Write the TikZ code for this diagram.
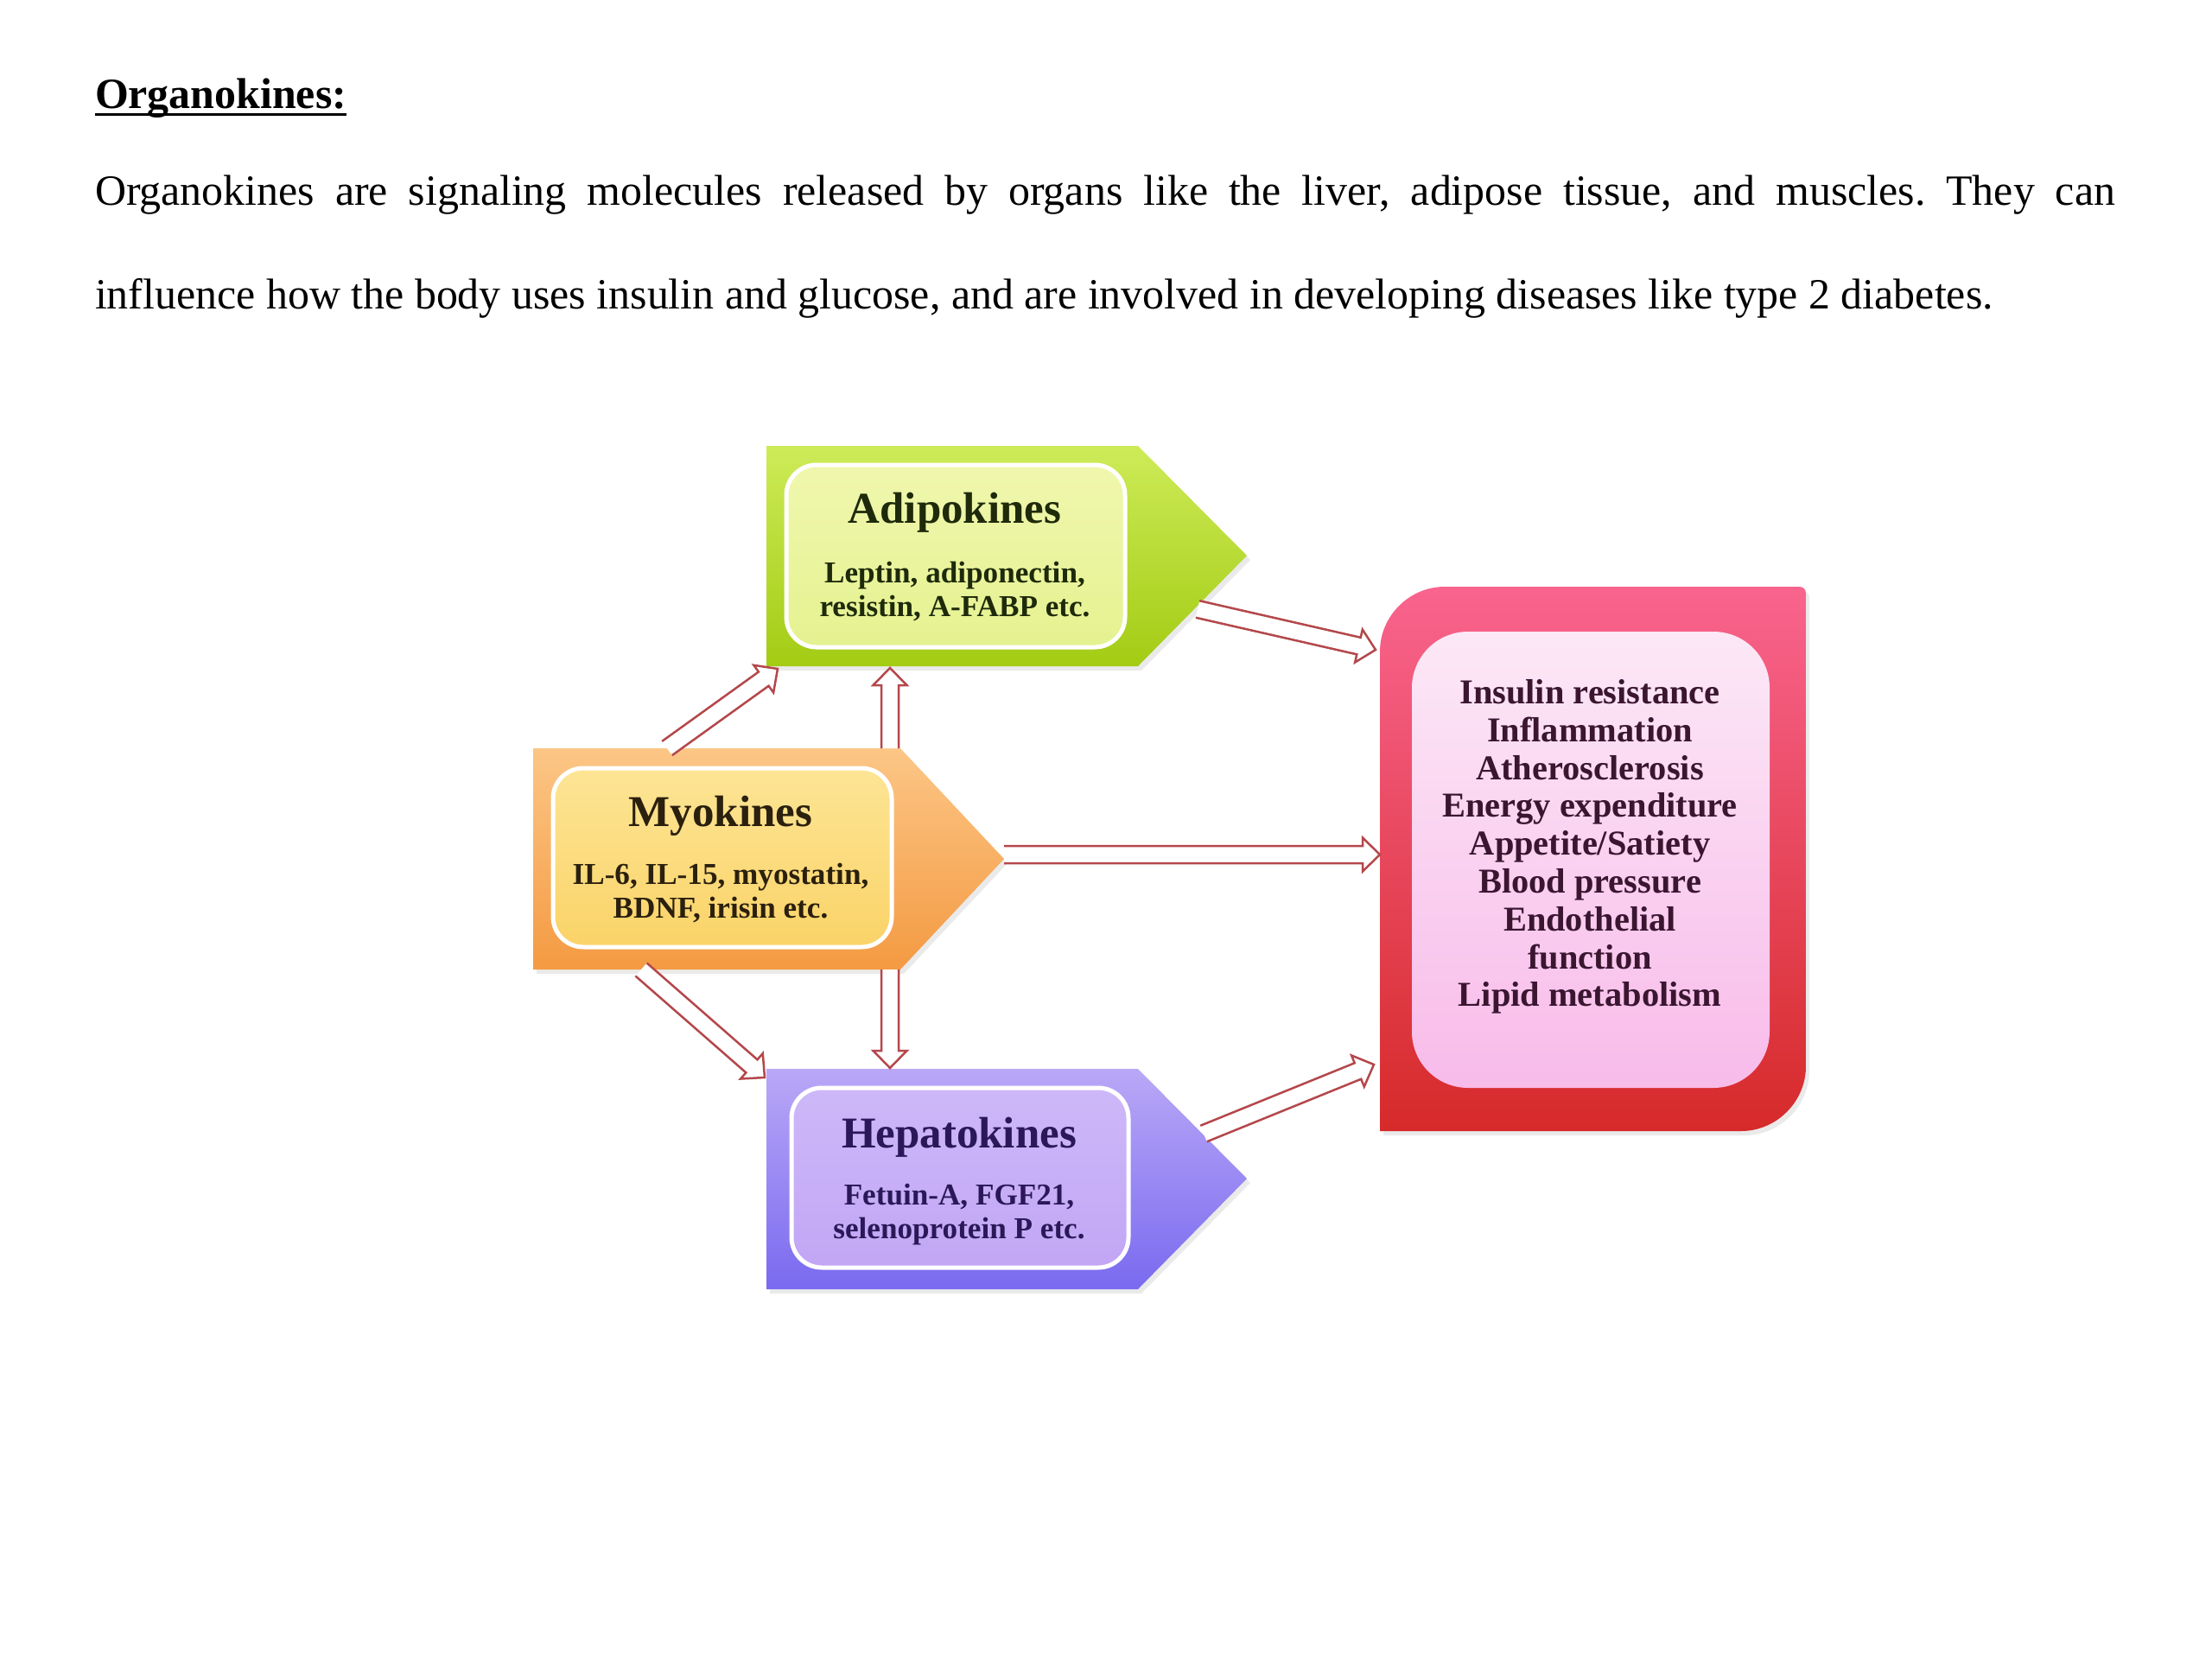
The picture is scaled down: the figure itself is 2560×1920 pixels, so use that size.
\documentclass[tikz,border=0pt]{standalone}
\usepackage{fontspec}
\setmainfont{Liberation Serif}
\usetikzlibrary{calc,shadows}
\frenchspacing
\definecolor{adiTop}{HTML}{CDEB58}
\definecolor{adiBot}{HTML}{A3CC14}
\definecolor{adiInTop}{HTML}{F0F7AE}
\definecolor{adiInBot}{HTML}{E5F290}
\definecolor{adiTxt}{HTML}{1E2A0A}
\definecolor{myoTop}{HTML}{FCC686}
\definecolor{myoBot}{HTML}{F49A42}
\definecolor{myoInTop}{HTML}{FDE595}
\definecolor{myoInBot}{HTML}{FAD368}
\definecolor{myoTxt}{HTML}{2B200E}
\definecolor{hepTop}{HTML}{B9A8F6}
\definecolor{hepBot}{HTML}{7A6AF0}
\definecolor{hepInTop}{HTML}{CDB8F8}
\definecolor{hepInBot}{HTML}{C2A6F5}
\definecolor{hepTxt}{HTML}{2A1858}
\definecolor{effTop}{HTML}{F9648E}
\definecolor{effBot}{HTML}{D62A2A}
\definecolor{effInTop}{HTML}{FCE8F6}
\definecolor{effInBot}{HTML}{F8BBEA}
\definecolor{effTxt}{HTML}{3A1630}
\definecolor{arrRed}{HTML}{B4474B}
\newcommand\asw{1mm}
\newcommand\ahw{1.95mm}
\newcommand\ahl{2mm}
\newcommand\onearrow[2]{%
  \coordinate (hh) at ($(#2)!\ahl!(#1)$);
  \filldraw[harr] ($(#1)!\asw!90:(#2)$) -- ($(hh)!\asw!90:(#2)$) -- ($(hh)!\ahw!90:(#2)$) -- (#2)
    -- ($(hh)!\ahw!-90:(#2)$) -- ($(hh)!\asw!-90:(#2)$) -- ($(#1)!\asw!-90:(#2)$);
}
\begin{document}
\begin{tikzpicture}[x=0.1mm,y=-0.1mm,
  txt/.style={inner sep=0pt, outer sep=0pt},
  harr/.style={draw=arrRed, fill=white, line width=0.25mm, line join=miter},
  shp/.style={drop shadow={shadow xshift=0.4mm, shadow yshift=-0.5mm, opacity=0.16}},
  inbox/.style={rounded corners=3.5mm, draw=white, line width=0.5mm, inner sep=0pt},
  ttl/.style={txt, font=\fontsize{14.5}{17}\selectfont\bfseries, align=center},
  sub/.style={txt, font=\fontsize{10}{11.1}\selectfont\bfseries, align=center}]
\useasboundingbox[fill=white] (0,0) rectangle (2560,1920);

% heading and paragraph
\node[txt, font=\fontsize{14.2}{17}\selectfont\bfseries, anchor=base west] (title) at (110,125) {Organokines:};
\draw[line width=0.3mm] ([yshift=-2pt]title.base west) -- ([yshift=-2pt]title.base east);
\node[txt, font=\fontsize{14.2}{17}\selectfont, anchor=base west] (line1) at (110,237)
  {\makebox[233.8mm][s]{Organokines are signaling molecules released by organs like the liver, adipose tissue, and muscles. They can}};
\node[txt, font=\fontsize{14.2}{17}\selectfont, anchor=base west] (line2) at (110,357)
  {influence how the body uses insulin and glucose, and are involved in developing diseases like type 2 diabetes.};

% Adipokines
\shade[shp, top color=adiTop, bottom color=adiBot] (887,516) -- (1317,516) -- (1443,643) -- (1317,771) -- (887,771) -- cycle;
\node[inbox, top color=adiInTop, bottom color=adiInBot, minimum width=39.2mm, minimum height=21.1mm] (adi) at (1106,643.5) {};
\node[ttl, text=adiTxt] (adi-t) at (1105,593) {Adipokines};
\node[sub, text=adiTxt] (adi-s) at (1105,685) {Leptin, adiponectin,\\resistin, A-FABP etc.};

% Myokines
\shade[shp, top color=myoTop, bottom color=myoBot] (617,866) -- (1042,866) -- (1162,994) -- (1042,1122) -- (617,1122) -- cycle;
\node[inbox, top color=myoInTop, bottom color=myoInBot, minimum width=39.2mm, minimum height=20.7mm] (myo) at (836,992.5) {};
\node[ttl, text=myoTxt] (myo-t) at (834,944) {Myokines};
\node[sub, text=myoTxt] (myo-s) at (834,1034) {IL-6, IL-15, myostatin,\\BDNF, irisin etc.};

% Hepatokines
\shade[shp, top color=hepTop, bottom color=hepBot] (887,1237) -- (1317,1237) -- (1443,1364) -- (1317,1492) -- (887,1492) -- cycle;
\node[inbox, top color=hepInTop, bottom color=hepInBot, minimum width=39mm, minimum height=20.8mm] (hep) at (1111,1363) {};
\node[ttl, text=hepTxt] (hep-t) at (1110,1316) {Hepatokines};
\node[sub, text=hepTxt] (hep-s) at (1110,1406) {Fetuin-A, FGF21,\\selenoprotein P etc.};

% Effects box
\shade[shp, top color=effTop, bottom color=effBot] (1597,1309) -- (1597,754) .. controls (1597,713) and (1631,679) .. (1672,679)
  -- (2082,679) .. controls (2087,679) and (2090,682) .. (2090,687)
  -- (2090,1234) .. controls (2090,1275) and (2056,1309) .. (2015,1309) -- cycle;
\node[rounded corners=6.5mm, inner sep=0pt, top color=effInTop, bottom color=effInBot, minimum width=41.4mm, minimum height=52.8mm] (eff) at (1841,995) {};
\node[txt, text=effTxt, font=\fontsize{11.5}{12.45}\selectfont\bfseries, align=center] (eff-t) at (1840,980)
  {Insulin resistance\\Inflammation\\Atherosclerosis\\Energy expenditure\\Appetite/Satiety\\Blood pressure\\Endothelial\\function\\Lipid metabolism};

% connector end points
\coordinate (m2a-s) at (772,866);   \coordinate (m2a-e) at (900,774);
\coordinate (up-s)  at (1030,866);  \coordinate (up-e)  at (1030,773);
\coordinate (a2r-s) at (1386,705);  \coordinate (a2r-e) at (1592,752);
\coordinate (m2r-s) at (1162,989);  \coordinate (m2r-e) at (1597,989);
\coordinate (m2h-s) at (742,1122);  \coordinate (m2h-e) at (885,1247);
\coordinate (dn-s)  at (1030,1122); \coordinate (dn-e)  at (1030,1236);
\coordinate (h2r-s) at (1393,1312); \coordinate (h2r-e) at (1590,1232);

\onearrow{m2a-s}{m2a-e}
\onearrow{up-s}{up-e}
\onearrow{a2r-s}{a2r-e}
\onearrow{m2r-s}{m2r-e}
\onearrow{m2h-s}{m2h-e}
\onearrow{dn-s}{dn-e}
\onearrow{h2r-s}{h2r-e}
\end{tikzpicture}
\end{document}
